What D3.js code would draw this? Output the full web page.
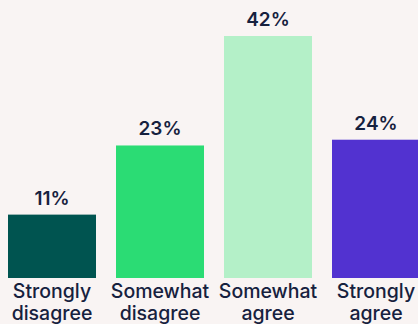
<!DOCTYPE html>
<html>
<head>
<meta charset="utf-8">
<script src="https://cdn.jsdelivr.net/npm/d3@7"></script>
<style>
  html, body { margin: 0; padding: 0; background: #f9f4f3; }
  svg { display: block; }
</style>
</head>
<body>
<svg id="chart"></svg>
<script>
var categories = [['Strongly', 'disagree'], ['Somewhat', 'disagree'], ['Somewhat', 'agree'], ['Strongly', 'agree']];
var values = [11, 23, 42, 24];
var colors = ['#005450', '#2bdc74', '#b4f0c8', '#5232d0'];

var width = 418, height = 324;
var baseline = 278;

var svg = d3.select('#chart')
  .attr('width', width)
  .attr('height', height);

svg.append('rect')
  .attr('width', width)
  .attr('height', height)
  .attr('fill', '#f9f4f3');

var x = d3.scaleBand()
  .domain(d3.range(values.length))
  .range([-2, 430])
  .paddingInner(20 / 108)
  .paddingOuter(10 / 108);

var y = d3.scaleLinear()
  .domain([0, 42])
  .range([baseline, 36]);

var bars = svg.selectAll('g.bar')
  .data(values)
  .enter()
  .append('g')
  .attr('class', 'bar');

bars.append('rect')
  .attr('x', (d, i) => x(i))
  .attr('y', d => y(d))
  .attr('width', x.bandwidth())
  .attr('height', d => baseline - y(d))
  .attr('fill', (d, i) => colors[i]);

bars.append('text')
  .text(d => d + '%')
  .attr('x', (d, i) => x(i) + x.bandwidth() / 2)
  .attr('y', d => y(d) - 10)
  .attr('text-anchor', 'middle')
  .style('font-family', 'Inter, "Open Sans", sans-serif')
  .style('font-size', '19px')
  .style('font-weight', 600)
  .attr('fill', '#16213e');

var labels = svg.selectAll('text.cat')
  .data(categories)
  .enter()
  .append('text')
  .attr('class', 'cat')
  .attr('x', (d, i) => x(i) + x.bandwidth() / 2)
  .attr('y', 298)
  .attr('text-anchor', 'middle')
  .style('font-family', 'Inter, "Open Sans", sans-serif')
  .style('font-size', '19.5px')
  .style('font-weight', 500)
  .attr('fill', '#16213e');

labels.selectAll('tspan')
  .data(d => d)
  .enter()
  .append('tspan')
  .attr('x', function() { return this.parentNode.getAttribute('x'); })
  .attr('dy', (d, i) => i ? 22 : 0)
  .text(d => d);
</script>
</body>
</html>
